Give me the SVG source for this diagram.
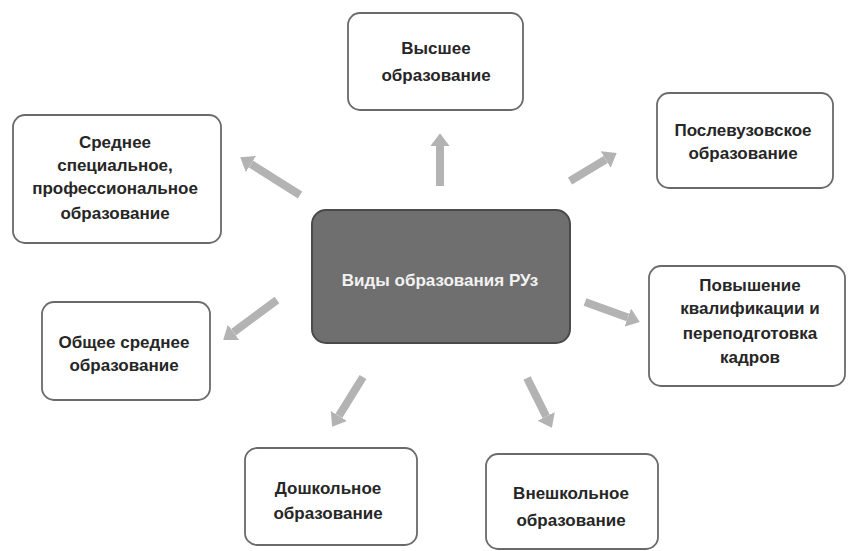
<svg xmlns="http://www.w3.org/2000/svg" width="849" height="551" viewBox="0 0 849 551">
<style>
.box{fill:#ffffff;stroke:#6a6a6a;stroke-width:1.8}
.center{fill:#6f6f6f;stroke:#4a4a4a;stroke-width:2}
.t{font-family:"Liberation Sans",Arial,sans-serif;font-weight:bold;font-size:17px;fill:#262626;text-anchor:middle}
.tc{font-family:"Liberation Sans",Arial,sans-serif;font-weight:bold;font-size:17px;fill:#f2f2f2;text-anchor:middle}
.arr{stroke:#b3b3b3;stroke-width:8;fill:none;marker-end:url(#ah)}
</style>
<defs>
<marker id="ah" viewBox="0 0 10 10" refX="0" refY="5" markerWidth="1.6" markerHeight="2.4" orient="auto" preserveAspectRatio="none">
<path d="M0,0 L10,5 L0,10 z" fill="#b3b3b3"/>
</marker>
</defs>
<rect width="849" height="551" fill="#ffffff"/>
<g id="connectors">
<line class="arr" x1="440" y1="186" x2="440" y2="146"/>
<line class="arr" x1="300" y1="195" x2="251" y2="164"/>
<line class="arr" x1="570" y1="181" x2="605.7" y2="159.5"/>
<line class="arr" x1="585" y1="302" x2="627.8" y2="317.6"/>
<line class="arr" x1="277" y1="300" x2="233.5" y2="332.3"/>
<line class="arr" x1="363" y1="377" x2="338.9" y2="415.9"/>
<line class="arr" x1="527" y1="378" x2="546.2" y2="416.4"/>
</g>
<g id="center">
<rect class="center" x="312" y="210" width="258" height="133" rx="14"/>
<text class="tc" x="440" y="286">Виды образования РУз</text>
</g>
<g id="vysshee">
<rect class="box" x="348" y="13" width="175" height="97" rx="12"/>
<text class="t" x="436" y="54">Высшее</text>
<text class="t" x="436" y="81">образование</text>
</g>
<g id="srednee-spec">
<rect class="box" x="13" y="115" width="208" height="128" rx="12"/>
<text class="t" x="115" y="148">Среднее</text>
<text class="t" x="115" y="171">специальное,</text>
<text class="t" x="115" y="194">профессиональное</text>
<text class="t" x="115" y="219">образование</text>
</g>
<g id="poslevuz">
<rect class="box" x="657" y="93" width="176" height="95" rx="12"/>
<text class="t" x="743" y="136">Послевузовское</text>
<text class="t" x="743" y="159">образование</text>
</g>
<g id="povyshenie">
<rect class="box" x="649" y="266" width="196" height="120" rx="12"/>
<text class="t" x="750" y="291">Повышение</text>
<text class="t" x="750" y="314">квалификации и</text>
<text class="t" x="750" y="339">переподготовка</text>
<text class="t" x="750" y="363">кадров</text>
</g>
<g id="obshee">
<rect class="box" x="42" y="302" width="168" height="98" rx="12"/>
<text class="t" x="124" y="348">Общее среднее</text>
<text class="t" x="124" y="371">образование</text>
</g>
<g id="doshkolnoe">
<rect class="box" x="245" y="448" width="172" height="97" rx="12"/>
<text class="t" x="328" y="494">Дошкольное</text>
<text class="t" x="328" y="519">образование</text>
</g>
<g id="vneshkolnoe">
<rect class="box" x="486" y="454" width="172" height="95" rx="12"/>
<text class="t" x="571" y="499">Внешкольное</text>
<text class="t" x="571" y="526">образование</text>
</g>
</svg>
